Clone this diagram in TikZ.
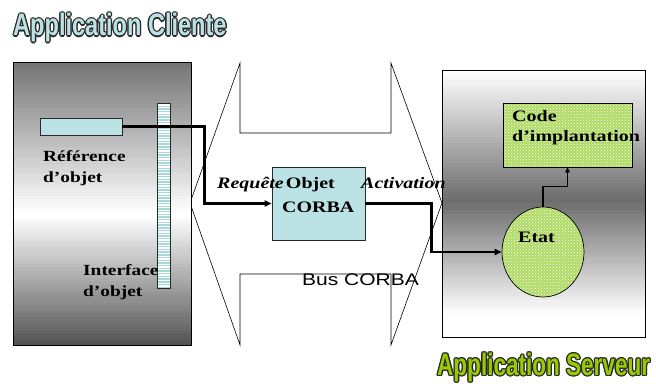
\documentclass[tikz,border=0pt]{standalone}
\usepackage{fontspec}
\usepackage{graphicx}
\setmainfont{Liberation Serif}
\newfontfamily\titlefont{Liberation Sans}
\newfontfamily\busfont{Liberation Sans}
\usetikzlibrary{shapes.geometric,patterns,arrows.meta}
\definecolor{lcyan}{RGB}{187,226,228}
\definecolor{stripecyan}{RGB}{168,216,218}
\definecolor{codegreen}{RGB}{175,218,100}
\definecolor{titlegreen}{RGB}{153,204,0}
\definecolor{titledark}{RGB}{40,40,40}
\newcommand\wide[1]{\scalebox{1.25}[1]{#1}}
\tikzset{
  panel/.style={draw=black, line width=0.7pt, inner sep=0pt},
  cyanbox/.style={draw=titledark, line width=0.7pt, fill=lcyan, inner sep=0pt},
  greenfill/.style={draw=black, line width=0.7pt, inner sep=0pt,
    preaction={fill=codegreen}, pattern=crosshatch dots, pattern color=white},
  lbl/.style={anchor=base west, inner sep=0pt, font=\bfseries\fontsize{15.5}{21}\selectfont},
  ilbl/.style={anchor=base west, inner sep=0pt, font=\bfseries\itshape\fontsize{16}{21}\selectfont},
  title/.style={anchor=base west, inner sep=0pt, font=\titlefont\bfseries\fontsize{31}{31}\selectfont},
  thick conn/.style={line width=2.3pt, -{Triangle[length=7pt,width=6pt]}},
  thin conn/.style={line width=1.2pt, -{Triangle[length=5pt,width=4.5pt]}}
}
\begin{document}
\begin{tikzpicture}[x=1pt,y=1pt]
\useasboundingbox (0,0) rectangle (656,383);
% bus shape
\draw[line width=0.6pt, fill=white] (190,180) -- (240,320) -- (240,250) -- (391,250) -- (391,320)
  -- (442,180) -- (391,38) -- (391,109) -- (240,109) -- (240,38) -- cycle;
% panel gradients (bands)
\foreach \i in {0,...,79} {
  \pgfmathsetmacro\t{(\i+0.5)/80}
  \pgfmathsetmacro\p{int(max(0, 68*(1-\t/0.46), 55*(\t-0.46)/0.54))}
  \fill[black!\p] (13,{38+\i*3.5375}) rectangle (191,{38+(\i+1)*3.5375+0.4});
}
\foreach \i in {0,...,79} {
  \pgfmathsetmacro\t{(\i+0.5)/80}
  \pgfmathsetmacro\p{int(58*min(max(0,(\t-0.08)/0.43), max(0,(1-\t)/0.49)))}
  \fill[black!\p] (442,{46+\i*3.3375}) rectangle (645,{46+(\i+1)*3.3375+0.4});
}
\node[panel, minimum width=178pt, minimum height=283pt] (client) at (102,179.5) {};
\node[panel, minimum width=203pt, minimum height=267pt] (server) at (543.5,179.5) {};
% interface strip
\begin{scope}
  \clip (157,95) rectangle (170,280);
  \fill[white] (157,95) rectangle (170,280);
  \foreach \i in {0,...,70} \fill[stripecyan] (157,{280-\i*2.7}) rectangle ++(13,-1.4);
\end{scope}
\node[draw=titledark, line width=0.7pt, minimum width=13pt, minimum height=185pt, inner sep=0pt] (intf) at (163.5,187.5) {};
% reference box
\node[cyanbox, minimum width=82pt, minimum height=17pt] (ref) at (81,256.5) {};
% CORBA object
\node[cyanbox, minimum width=93pt, minimum height=73pt] (corba) at (318.5,179.5) {};
% server side
\node[greenfill, minimum width=129pt, minimum height=64pt] (code) at (567.5,248) {};
\node[greenfill, ellipse, minimum width=82pt, minimum height=90pt] (etat) at (543,131) {};
% connectors
\draw[thick conn] (ref.east) -- ++(82,0) |- (corba.west);
\draw[thick conn] (corba.east) -- ++(66,0) |- (etat.west);
\draw[thin conn] (etat.north) -- ++(0,20) -| (code.south);
% labels
\node[lbl] (reftxt) at (43,221) {\wide{\begin{tabular}[t]{@{}l@{}}Référence\\d’objet\end{tabular}}};
\node[lbl] (intftxt) at (83,107) {\wide{\begin{tabular}[t]{@{}l@{}}Interface\\d’objet\end{tabular}}};
\node[lbl, font=\bfseries\fontsize{16}{24}\selectfont] (corbatxt) at (282,194) {\wide{\begin{tabular}[t]{@{}l@{}}\hspace*{3pt}Objet\\CORBA\end{tabular}}};
\node[ilbl] (req) at (217,194) {\wide{Requête}};
\node[ilbl] (act) at (361,194) {\wide{Activation}};
\node[anchor=base west, inner sep=0pt, font=\busfont\fontsize{16.8}{20}\selectfont] (bus) at (302,97) {\wide{Bus CORBA}};
\node[lbl, font=\bfseries\fontsize{16}{20}\selectfont] (codetxt) at (512,261) {\wide{\begin{tabular}[t]{@{}l@{}}Code\\d’implantation\end{tabular}}};
\node[lbl, font=\bfseries\fontsize{16}{20}\selectfont] (etattxt) at (518,140) {\wide{Etat}};
% titles with outline
\foreach \dx/\dy [count=\k] in {-1/0,1/0,0/-1,0/1,-0.8/-0.8,0.8/0.8,-0.8/0.8,0.8/-0.8,-1.3/0,1.3/0,0/1.3,0/-1.3} {
  \node[title, text=titledark] (tca\k) at ({13+\dx},{347+\dy}) {\scalebox{0.76}[1]{Application Cliente}};
  \node[title, text=titledark] (tsa\k) at ({437+\dx},{7.5+\dy}) {\scalebox{0.727}[1]{Application Serveur}};
}
\node[title, text=lcyan] (tclient) at (13,347) {\scalebox{0.76}[1]{Application Cliente}};
\node[title, text=titlegreen] (tserver) at (437,7.5) {\scalebox{0.727}[1]{Application Serveur}};
\end{tikzpicture}
\end{document}
